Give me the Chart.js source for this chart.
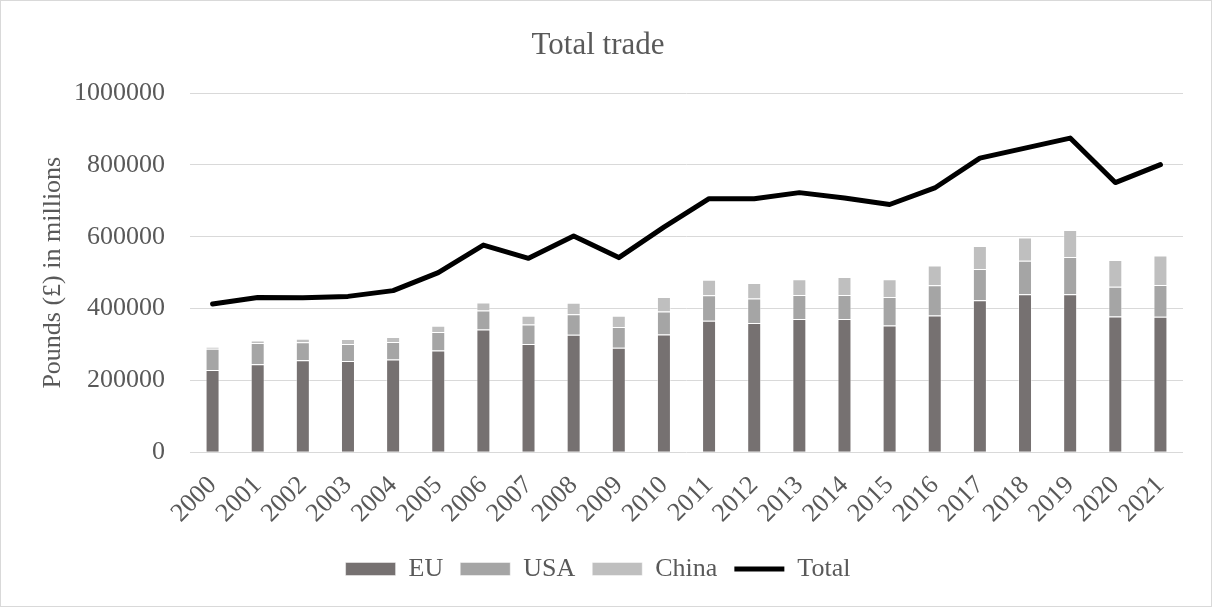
<!DOCTYPE html>
<html>
<head>
<meta charset="utf-8">
<title>Total trade</title>
<script src="https://cdn.jsdelivr.net/npm/chart.js@4.4.1/dist/chart.umd.min.js"></script>
<style>
  html, body { margin: 0; padding: 0; background: #fff; }
  #marco {
    width: 1212px; height: 607px;
    box-sizing: border-box;
    border: 1px solid #d9d9d9;
    background: #fff;
  }
  #marco canvas { display: block; }
</style>
</head>
<body>
<div id="marco">
  <canvas id="graficaComercio" width="1210" height="605"></canvas>
</div>
<script>
// years on the x axis
var anios = ['2000', '2001', '2002', '2003', '2004', '2005', '2006', '2007', '2008', '2009', '2010',
             '2011', '2012', '2013', '2014', '2015', '2016', '2017', '2018', '2019', '2020', '2021'];

// trade by partner, £ millions
var comercioUE = [229000, 245000, 256000, 254000, 258000, 283000, 342000, 301000, 327000, 291000, 328000,
                  366000, 360000, 371000, 371000, 353000, 381000, 423000, 440000, 440000, 378000, 377000];
var comercioUSA = [59000, 59000, 50000, 47000, 49000, 52000, 53000, 55000, 57000, 58000, 64000,
                   71000, 68000, 67000, 67000, 79000, 84000, 87000, 93000, 104000, 83000, 89000];
var comercioChina = [5500, 7000, 10000, 14000, 14000, 17000, 22000, 24000, 32000, 31000, 40000,
                     43000, 43000, 44000, 50000, 50000, 55000, 64000, 65000, 75000, 74000, 82000];

// total trade with all partners
var comercioTotal = [413000, 431000, 430000, 434000, 450000, 500000, 577000, 540000, 602000, 542000, 627000,
                     706000, 706000, 723000, 708000, 690000, 736000, 819000, 847000, 875000, 751000, 801000];

// y axis ticks
var ejeMin = 0;
var ejeMax = 1000000;
var ejePaso = 200000;

document.addEventListener("DOMContentLoaded", function (event) {
  dibujar_grafica();
});

//----------------------------------------------------------------------------
function dibujar_grafica() {
  var fuente = "'Liberation Serif', 'Times New Roman', serif";
  var gris = '#595959';
  var barras = { stack: 'socios', barPercentage: 0.31, categoryPercentage: 1,
                 borderWidth: 1, borderColor: 'rgba(255,255,255,0.45)', pointStyle: 'rect' };

  var ctx = document.getElementById('graficaComercio');
  var grafica = new Chart(ctx, {
    type: 'bar',
    data: {
      labels: anios,
      datasets: [
        Object.assign({ label: 'EU', data: comercioUE, backgroundColor: '#767171' }, barras),
        Object.assign({ label: 'USA', data: comercioUSA, backgroundColor: '#a5a5a5' }, barras),
        Object.assign({ label: 'China', data: comercioChina, backgroundColor: '#bfbfbf' }, barras),
        {
          type: 'line',
          label: 'Total',
          data: comercioTotal,
          stack: 'total',
          borderColor: '#000000',
          backgroundColor: '#000000',
          borderWidth: 5,
          borderCapStyle: 'round',
          borderJoinStyle: 'round',
          pointRadius: 0,
          pointHoverRadius: 0,
          pointStyle: 'line',
          tension: 0
        }
      ]
    },
    options: {
      responsive: false,
      animation: false,
      layout: { padding: { left: 12, right: 28, top: 0, bottom: 14 } },
      plugins: {
        title: {
          display: true,
          text: 'Total trade',
          color: gris,
          font: { family: fuente, size: 31, weight: 'normal' },
          padding: { top: 26, bottom: 29 }
        },
        legend: {
          position: 'bottom',
          labels: {
            usePointStyle: true,
            pointStyleWidth: 50,
            boxHeight: 13,
            padding: 17,
            color: gris,
            font: { family: fuente, size: 26 }
          }
        },
        tooltip: { enabled: false }
      },
      scales: {
        x: {
          stacked: true,
          grid: { display: false },
          border: { display: false },
          ticks: {
            color: gris,
            font: { family: fuente, size: 26 },
            minRotation: 45,
            maxRotation: 45,
            autoSkip: false,
            padding: 10
          },
          // the rotated year labels may hang past the plot edge
          afterFit: function (escala) {
            escala.paddingLeft = 0;
            escala.paddingRight = 0;
          }
        },
        y: {
          stacked: true,
          min: ejeMin,
          max: ejeMax,
          grid: { color: '#d9d9d9', lineWidth: 1, drawTicks: false },
          border: { display: false },
          ticks: {
            stepSize: ejePaso,
            color: gris,
            font: { family: fuente, size: 26 },
            padding: 25,
            callback: function (valor) { return String(valor); }
          },
          title: {
            display: true,
            text: 'Pounds (£) in millions',
            color: gris,
            font: { family: fuente, size: 26 },
            padding: { top: 25, bottom: 6 }
          },
          // fixed width for the title + tick column
          afterFit: function (escala) {
            escala.width = 177;
          }
        }
      }
    }
  });
}
</script>
</body>
</html>
